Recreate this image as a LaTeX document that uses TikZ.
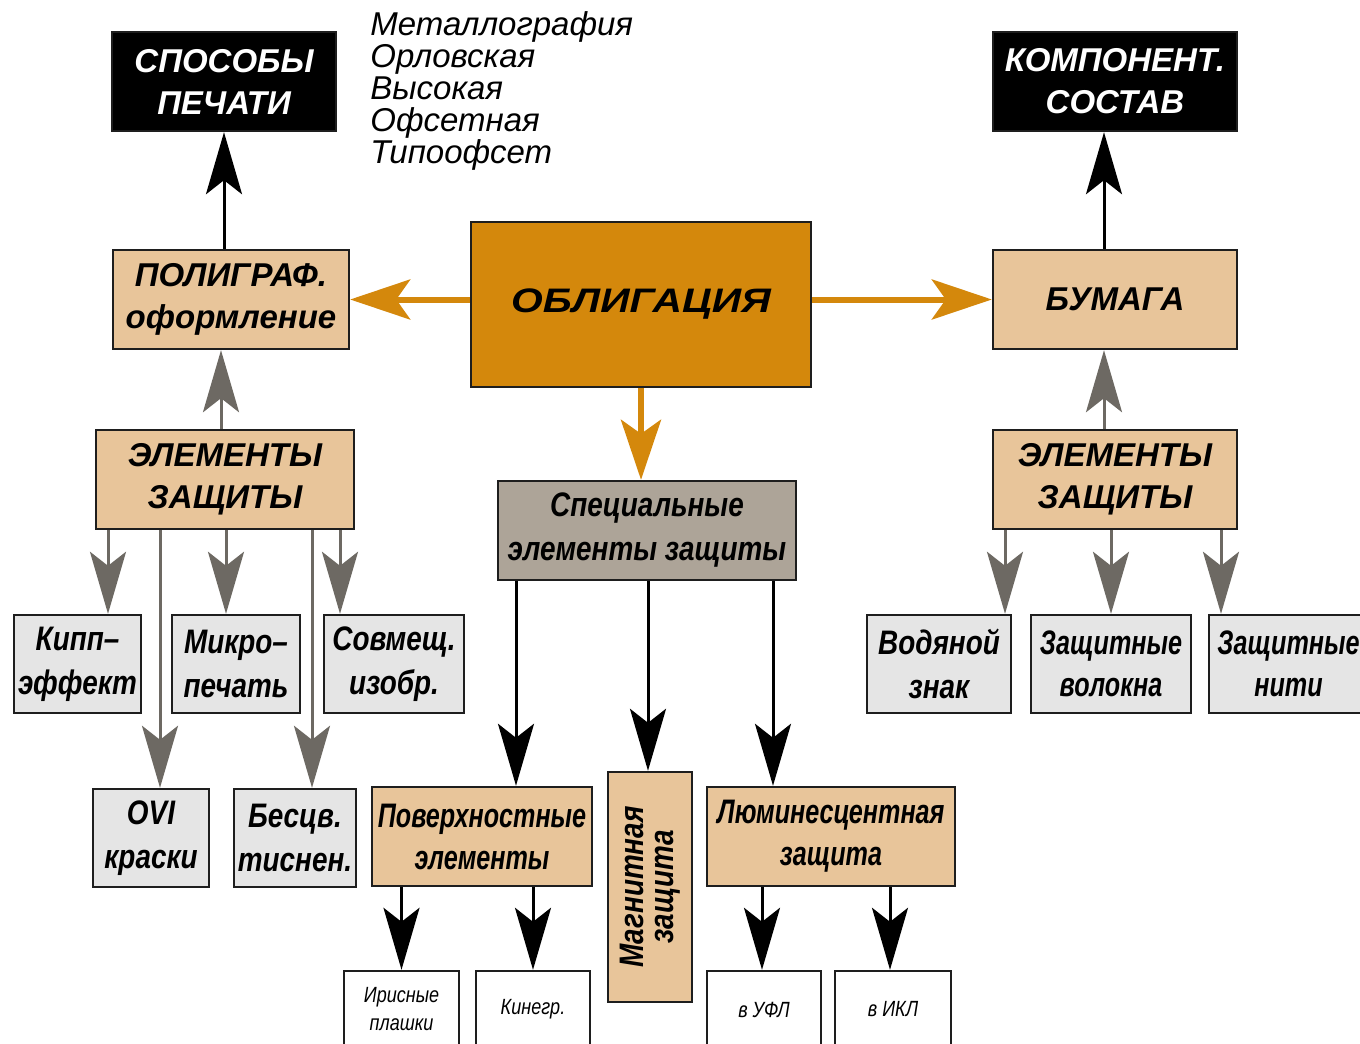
\documentclass[tikz,border=0pt]{standalone}
\usepackage{fontspec}
\setmainfont{Liberation Sans}
\newfontfamily\narrowfont[FakeStretch=0.82]{Liberation Sans}
\newfontfamily\slimfont[FakeStretch=0.74]{Liberation Sans}
\newfontfamily\widefont[FakeStretch=1.2]{Liberation Sans}
\usetikzlibrary{arrows.meta,calc}

\definecolor{oblorange}{HTML}{D4880C}
\definecolor{tanfill}{HTML}{E8C59A}
\definecolor{specgray}{HTML}{ADA498}
\definecolor{lightbox}{HTML}{E5E5E5}
\definecolor{arrgray}{HTML}{6D6963}
\definecolor{boxedge}{HTML}{1E1E1E}

\newcommand{\headfont}{\fontsize{16.5}{21}\selectfont\bfseries\itshape}
\newcommand{\oblfont}{\widefont\fontsize{17}{21}\selectfont\bfseries\itshape}
\newcommand{\lowfont}{\narrowfont\fontsize{17}{22}\selectfont\bfseries\itshape}
\newcommand{\slimboxfont}{\slimfont\fontsize{17}{21}\selectfont\bfseries\itshape}
\newcommand{\magnfont}{\narrowfont\fontsize{17}{15}\selectfont\bfseries\itshape}
\newcommand{\smallboxfont}{\narrowfont\fontsize{11}{14}\selectfont\itshape}
\newcommand{\listfont}{\fontsize{16.5}{16}\selectfont\itshape}

\begin{document}
\begin{tikzpicture}[x=0.5pt,y=-0.5pt]

    \tikzset{
      box/.style={
        draw=boxedge,
        line width=1.2pt,
        inner sep=0pt,
        align=center,
        minimum height=49.5pt,
      },
      blackbox/.style={box, fill=black, text=white, font=\headfont},
      tanbox/.style={box, fill=tanfill, font=\headfont},
      greybox/.style={box, fill=lightbox, font=\lowfont, minimum height=49pt},
      whitebox/.style={box, fill=white, font=\smallboxfont, minimum height=38.5pt},
      tip/.style={-{Stealth[length=31pt,width=18pt,inset=7pt]}},
      blk/.style={tip, draw=black, line width=1.5pt},
      gry/.style={tip, draw=arrgray, line width=1.5pt},
      org/.style={-{Stealth[length=30pt,width=20pt,inset=7pt]}, draw=oblorange, line width=3pt},
    }
    \fill[white] (0,0) rectangle (1360,1044);
    \useasboundingbox (0,0) rectangle (1360,1044);

	% top row
	\draw (224,81.5) node[blackbox, minimum width=112pt] (spos) {СПОСОБЫ\\ПЕЧАТИ};
	\draw (1115,81.5) node[blackbox, minimum width=122pt] (komp) {КОМПОНЕНТ.\\СОСТАВ};
	\draw (370,11) node[anchor=north west, align=left, inner sep=0pt, font=\listfont] (methods) {Металлография\\Орловская\\Высокая\\Офсетная\\Типоофсет};

	% middle row
	\draw (231,299.5) node[tanbox, minimum width=118pt] (polig) {ПОЛИГРАФ.\\оформление};
	\draw (641,304.5) node[box, fill=oblorange, font=\oblfont, minimum width=170pt, minimum height=82.5pt] (oblig) {ОБЛИГАЦИЯ};
	\draw (1115,299.5) node[tanbox, minimum width=122pt] (bum) {БУМАГА};

	\draw (225,479.5) node[tanbox, minimum width=129pt] (elL) {ЭЛЕМЕНТЫ\\ЗАЩИТЫ};
	\draw (1115,479.5) node[tanbox, minimum width=122pt] (elR) {ЭЛЕМЕНТЫ\\ЗАЩИТЫ};
	\draw (647,530.5) node[box, fill=specgray, font=\lowfont, minimum width=149pt] (spec) {Специальные\\элементы защиты};

	% left group
	\draw (77.5,664) node[greybox, minimum width=63.5pt] (kipp) {Кипп–\\эффект};
	\draw (236,664) node[greybox, minimum width=64pt] (mikro) {Микро–\\печать};
	\draw (394,664) node[greybox, minimum width=70pt] (sovm) {Совмещ.\\изобр.};
	\draw (151,838) node[greybox, minimum width=58pt] (ovi) {OVI\\краски};
	\draw (295,838) node[greybox, minimum width=61pt] (besc) {Бесцв.\\тиснен.};

	% right group
	\draw (939,664) node[greybox, minimum width=72pt] (vod) {Водяной\\знак};
	\draw (1111,664) node[greybox, font=\slimboxfont, minimum width=80pt] (volo) {Защитные\\волокна};
	\draw (1288.5,664) node[greybox, font=\slimboxfont, minimum width=79.5pt] (niti) {Защитные\\нити};

	% special group
	\draw (482,836.5) node[tanbox, font=\slimboxfont, minimum width=110pt] (pov) {Поверхностные\\элементы};
	\draw (650,887) node[tanbox, minimum width=42pt, minimum height=115pt] (magn) {};
	\draw (magn.center) node[rotate=90, align=center, font=\magnfont] (magnT) {Магнитная\\защита};
	\draw (831,836.5) node[tanbox, font=\slimboxfont, minimum width=124pt] (lum) {Люминесцентная\\защита};

	\draw (401.5,1009.5) node[whitebox, minimum width=57.5pt] (iris) {Ирисные\\плашки};
	\draw (533,1009.5) node[whitebox, minimum width=57pt] (kin) {Кинегр.};
	\draw (764,1009.5) node[whitebox, minimum width=57pt] (ufl) {в УФЛ};
	\draw (893,1009.5) node[whitebox, minimum width=58pt] (ikl) {в ИКЛ};

	% connectors
	\draw[org] (oblig.west |- polig.east) -- (polig.east);
	\draw[org] (oblig.east |- bum.west) -- (bum.west);
	\draw[org] (oblig.south) -- (oblig.south |- spec.north);

	\draw[blk] (polig.north -| spos.south) -- (spos.south);
	\draw[blk] ([xshift=-5.5pt]bum.north) -- ([xshift=-5.5pt]komp.south);
	\draw[gry] ([xshift=-2pt]elL.north) -- ([xshift=-5pt]polig.south);
	\draw[gry] ([xshift=-5.5pt]elR.north) -- ([xshift=-5.5pt]bum.south);

	\draw[gry] ([xshift=15.25pt]kipp.north |- elL.south) -- ([xshift=15.25pt]kipp.north);
	\draw[gry] ([xshift=4.5pt]ovi.north |- elL.south) -- ([xshift=4.5pt]ovi.north);
	\draw[gry] ([xshift=-5pt]mikro.north |- elL.south) -- ([xshift=-5pt]mikro.north);
	\draw[gry] ([xshift=8.5pt]besc.north |- elL.south) -- ([xshift=8.5pt]besc.north);
	\draw[gry] ([xshift=-27pt]sovm.north |- elL.south) -- ([xshift=-27pt]sovm.north);

	\draw[gry] ([xshift=33pt]vod.north |- elR.south) -- ([xshift=33pt]vod.north);
	\draw[gry] (volo.north |- elR.south) -- (volo.north);
	\draw[gry] ([xshift=-33.75pt]niti.north |- elR.south) -- ([xshift=-33.75pt]niti.north);

	\draw[blk] ([xshift=17pt]pov.north |- spec.south) -- ([xshift=17pt]pov.north);
	\draw[blk] ([xshift=-1pt]magn.north |- spec.south) -- ([xshift=-1pt]magn.north);
	\draw[blk] ([xshift=-29pt]lum.north |- spec.south) -- ([xshift=-29pt]lum.north);

	\draw[blk] (iris.north |- pov.south) -- (iris.north);
	\draw[blk] (kin.north |- pov.south) -- (kin.north);
	\draw[blk] ([xshift=-1pt]ufl.north |- lum.south) -- ([xshift=-1pt]ufl.north);
	\draw[blk] ([xshift=-1.5pt]ikl.north |- lum.south) -- ([xshift=-1.5pt]ikl.north);

\end{tikzpicture}
\end{document}
